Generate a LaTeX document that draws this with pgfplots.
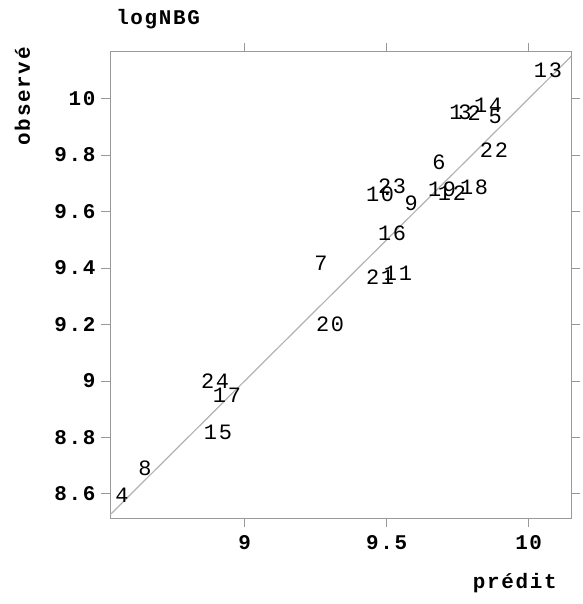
\documentclass[border=0pt]{standalone}
\usepackage{fontspec}
\setmainfont[LetterSpace=8.0]{Liberation Mono}
\usepackage{pgfplots}
\pgfplotsset{compat=1.18}

\pgfplotstableread{
x y lab
9.744 9.950 1
9.808 9.950 2
9.776 9.950 3
8.568 8.596 4
9.882 9.936 5
9.684 9.776 6
9.269 9.417 7
8.649 8.692 8
9.586 9.630 9
9.477 9.662 10
9.540 9.382 11
9.730 9.666 12
10.068 10.100 13
9.857 9.975 14
8.906 8.817 15
9.519 9.524 16
8.938 8.948 17
9.808 9.687 18
9.695 9.680 19
9.301 9.200 20
9.477 9.367 21
9.878 9.819 22
9.519 9.691 23
8.896 9.001 24
}\obs

\begin{document}
\begin{tikzpicture}
\begin{axis}[
  name=ax,
  scale only axis,
  width=461bp,height=466bp,
  xmin=8.526,xmax=10.149,ymin=8.515,ymax=10.165,
  xtick={9,9.5,10},ytick={8.6,8.8,9,9.2,9.4,9.6,9.8,10},
  tick pos=both,tick align=outside,
  xticklabel pos=lower,yticklabel pos=left,
  major tick length=9bp,
  axis line style={black!40,line width=1pt},
  tick style={black!40,line width=1pt},
  /pgf/number format/assume math mode=true,
  ticklabel style={font=\fontsize{21}{24}\selectfont\bfseries},
  xticklabel style={yshift=-5bp},
  yticklabel style={xshift=-2bp},
  title={logNBG},
  title style={at={(axis description cs:0.006,1.058)},anchor=west,font=\fontsize{21}{24}\selectfont\bfseries},
  xlabel={prédit},
  xlabel style={at={(axis description cs:0.878,-0.14)},anchor=center,font=\fontsize{21}{24}\selectfont\bfseries},
  ylabel={observé},
  ylabel style={at={(axis description cs:-0.19,0.905)},anchor=center,rotate=0,font=\fontsize{21}{24}\selectfont\bfseries},
]
\addplot[black!30,line width=1.2pt] coordinates {(8.4,8.4) (10.3,10.3)};
\addplot[only marks,mark=none,
  point meta=explicit symbolic,
  nodes near coords,
  nodes near coords align={center},
  nodes near coords style={anchor=center,font=\fontsize{22}{24}\selectfont,text=black}]
  table[x=x,y=y,meta=lab] {\obs};
\end{axis}
\path ([xshift=-110bp,yshift=-86bp]ax.south west) rectangle ([xshift=12bp,yshift=52bp]ax.north east);
\end{tikzpicture}
\end{document}
